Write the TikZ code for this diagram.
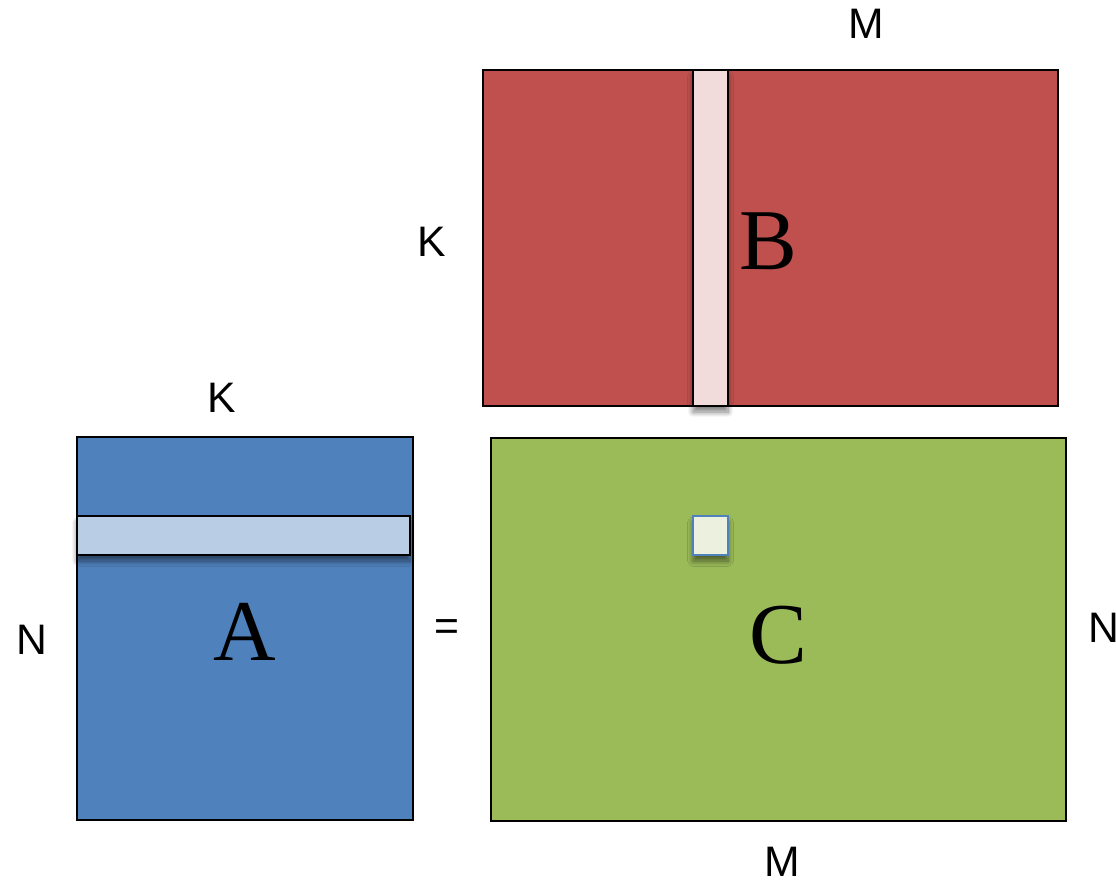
\documentclass[tikz,border=0pt]{standalone}
\usepackage{fontspec}
\setmainfont{Liberation Serif}
\newfontfamily\labelfont{Liberation Sans}
\usetikzlibrary{shadows.blur}

\definecolor{matB}{HTML}{C0504D}
\definecolor{stripB}{HTML}{F2DCDB}
\definecolor{matA}{HTML}{4F81BD}
\definecolor{stripA}{HTML}{B9CDE5}
\definecolor{matC}{HTML}{9BBB59}
\definecolor{cellC}{HTML}{EBF1DE}

\tikzset{
  matrixbox/.style={draw=black, line width=1.1pt},
  softshadow/.style={blur shadow={shadow xshift=0pt, shadow yshift=-4.5pt,
    shadow blur radius=4pt, shadow blur steps=8, shadow opacity=50}},
  slicebox/.style={draw=black, line width=1.6pt, softshadow},
  cellbox/.style={draw=matA, line width=1.6pt, softshadow},
  dimlabel/.style={font=\labelfont\fontsize{32}{32}\selectfont, inner sep=0pt, text=black},
  namelabel/.style={font=\fontsize{65}{65}\selectfont, inner sep=0pt, text=black},
}

\begin{document}
\begin{tikzpicture}[x=0.75pt, y=-0.75pt]
  \useasboundingbox (0,0) rectangle (1116,883);

  % matrix B with one highlighted column
  \path[matrixbox, fill=matB] (483,70) rectangle (1058,406);
  \path[slicebox, fill=stripB] (693,70) rectangle (728,406);
  \node[namelabel] (nameB) at (768,241) {B};

  % matrix A with one highlighted row
  \path[matrixbox, fill=matA] (77,437) rectangle (413,820);
  \path[slicebox, fill=stripA] (77,516) rectangle (410,555);
  \node[namelabel] (nameA) at (245,632) {A};

  % result matrix C with the computed element
  \path[matrixbox, fill=matC] (491,438) rectangle (1066,821);
  \path[cellbox, fill=cellC] (693,516) rectangle (728,555);
  \node[namelabel] (nameC) at (778,635) {C};

  % dimension labels
  \node[dimlabel] (mtop) at (866,24) {M};
  \node[dimlabel] (kB) at (432,242) {K};
  \node[dimlabel] (kA) at (222,398) {K};
  \node[dimlabel] (nA) at (32,640) {N};
  \node[dimlabel] (eq) at (447,630) {=};
  \node[dimlabel] (nC) at (1104,628) {N};
  \node[dimlabel] (mbot) at (782,862) {M};
\end{tikzpicture}
\end{document}
